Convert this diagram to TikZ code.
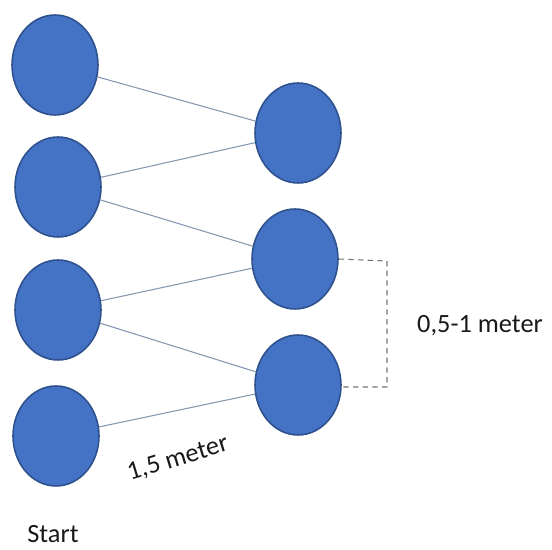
\documentclass[tikz,border=0pt]{standalone}
\usepackage{fontspec}
\setmainfont{Carlito}
\usetikzlibrary{shapes.geometric}

\definecolor{dotblue}{HTML}{4472C4}
\definecolor{dotedge}{HTML}{2F528F}
\definecolor{linkgrey}{HTML}{8497B0}

\tikzset{
  dot/.style={ellipse,fill=dotblue,draw=dotedge,line width=0.9pt,minimum width=1.72cm,minimum height=2cm,inner sep=0pt},
  link/.style={draw=linkgrey,line width=0.6pt},
  gap/.style={draw=gray!90!black,line width=0.6pt,dash pattern=on 3pt off 2.5pt},
  lbl/.style={font=\fontsize{15}{17}\selectfont,text=black!90,inner sep=1pt}
}

\begin{document}
\begin{tikzpicture}[x=0.02cm,y=-0.02cm]
	    \useasboundingbox (0,0) rectangle (552,550);

	    % first row
	    \node[dot] (a1) at (55,65) {};
	    \node[dot] (a2) at (58,187) {};
	    \node[dot] (a3) at (58,310) {};
	    \node[dot] (a4) at (56,436) {};

	    % second row
	    \node[dot] (b1) at (298,133) {};
	    \node[dot] (b2) at (295,259) {};
	    \node[dot] (b3) at (298,385) {};

	    \draw[link] (a1) -- (b1);
	    \draw[link] (a2) -- (b1);
	    \draw[link] (a2) -- (b2);
	    \draw[link] (a3) -- (b2);
	    \draw[link] (a3) -- (b3);
	    \draw[link] (a4) -- (b3);

	    \coordinate (g1) at (387,261);
	    \coordinate (g2) at (387,387);
	    \draw[gap] (b2.east) -- (g1) -- (g2) -- (b3.east |- g2);

	    \node[lbl] (spacing) at (480,326) {0,5-1 meter};
	    \node[lbl,rotate=17] (distance) at (178,459) {1,5 meter};
	    \node[lbl] (start) at (53,534) {Start};
\end{tikzpicture}
\end{document}
